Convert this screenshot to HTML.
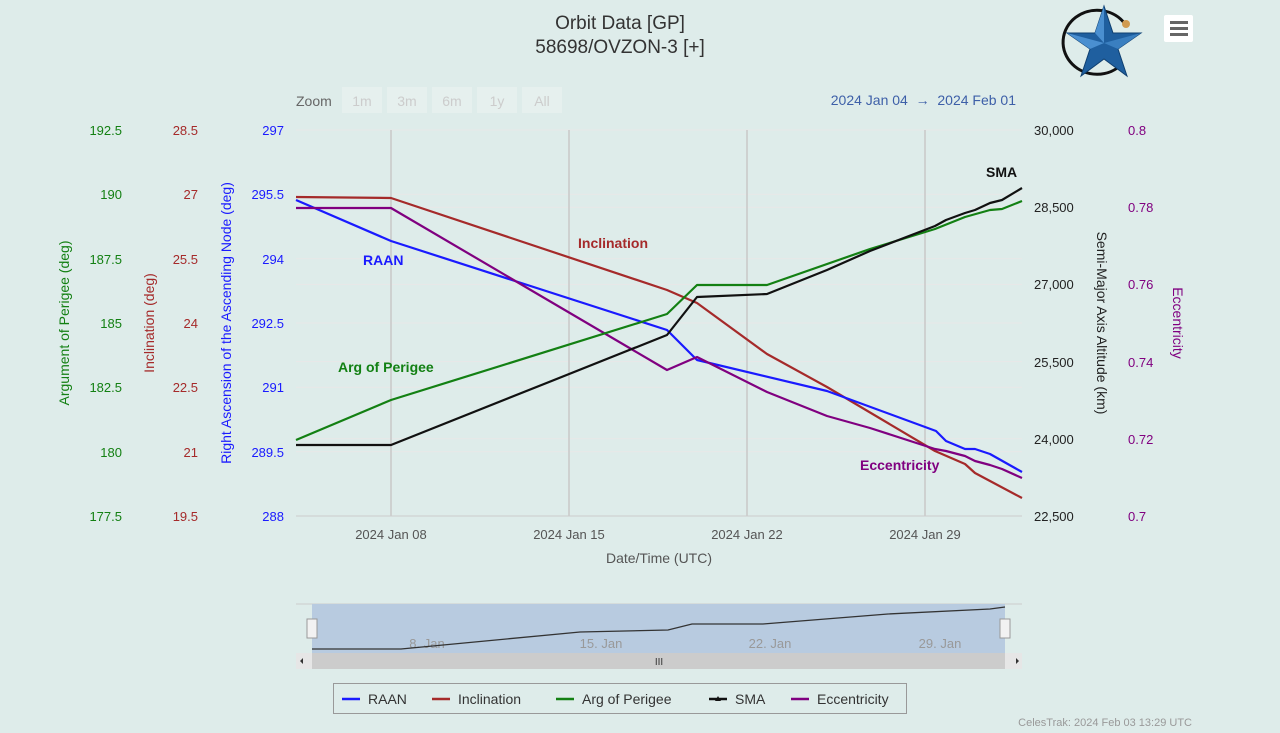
<!DOCTYPE html>
<html><head><meta charset="utf-8"><style>
html,body{margin:0;padding:0;background:#deecea;}
svg{display:block;font-family:"Liberation Sans",sans-serif;}
</style></head><body>
<svg width="1280" height="733" viewBox="0 0 1280 733">
<rect width="1280" height="733" fill="#deecea"/>
<text x="620" y="29" text-anchor="middle" font-size="19" fill="#333">Orbit Data [GP]</text>
<text x="620" y="53" text-anchor="middle" font-size="19" fill="#333">58698/OVZON-3 [+]</text>
<!-- logo -->
<g>
<path d="M1125 24 A34 32 0 1 0 1122 64" fill="none" stroke="#111" stroke-width="3"/>
<circle cx="1126" cy="24" r="4" fill="#d09a50"/>
<polygon points="1104,6 1113,33 1141,33 1118,49 1127,76 1104,59 1081,76 1090,49 1067,33 1095,33" fill="#1f5f9f" stroke="#0f3f70" stroke-width="1"/>
<polygon points="1104,6 1104,43 1095,33" fill="#4a8fd0"/>
<polygon points="1141,33 1104,43 1118,49" fill="#3a7fc0"/>
<polygon points="1067,33 1104,43 1090,49" fill="#4a8fd0"/>
</g>
<rect x="1164" y="15" width="29" height="27" rx="2" fill="#fff"/>
<rect x="1170" y="21" width="18" height="3" fill="#666"/>
<rect x="1170" y="27" width="18" height="3" fill="#666"/>
<rect x="1170" y="33" width="18" height="3" fill="#666"/>
<!-- zoom buttons -->
<text x="296" y="106" font-size="14" fill="#666">Zoom</text>
<g font-size="14" fill="#ccc" text-anchor="middle">
<rect x="342" y="87" width="40" height="26" fill="#e6f0ee"/><text x="362" y="106">1m</text>
<rect x="387" y="87" width="40" height="26" fill="#e6f0ee"/><text x="407" y="106">3m</text>
<rect x="432" y="87" width="40" height="26" fill="#e6f0ee"/><text x="452" y="106">6m</text>
<rect x="477" y="87" width="40" height="26" fill="#e6f0ee"/><text x="497" y="106">1y</text>
<rect x="522" y="87" width="40" height="26" fill="#e6f0ee"/><text x="542" y="106">All</text>
</g>
<text x="1016" y="105" text-anchor="end" font-size="14" fill="#3d5fa8">2024 Jan 04 &#160;→ &#160;2024 Feb 01</text>
<!-- grid -->
<g stroke="#e8e8e8" stroke-width="1">
<line x1="296" x2="1022" y1="130" y2="130"/><line x1="296" x2="1022" y1="194.3" y2="194.3"/>
<line x1="296" x2="1022" y1="258.7" y2="258.7"/><line x1="296" x2="1022" y1="323" y2="323"/>
<line x1="296" x2="1022" y1="387.3" y2="387.3"/><line x1="296" x2="1022" y1="451.7" y2="451.7"/>
<line x1="296" x2="1022" y1="207.2" y2="207.2"/><line x1="296" x2="1022" y1="284.4" y2="284.4"/>
<line x1="296" x2="1022" y1="361.6" y2="361.6"/><line x1="296" x2="1022" y1="438.8" y2="438.8"/>
</g>
<g stroke="#c8c8c8" stroke-width="1.5">
<line x1="391" x2="391" y1="130" y2="516"/><line x1="569" x2="569" y1="130" y2="516"/>
<line x1="747" x2="747" y1="130" y2="516"/><line x1="925" x2="925" y1="130" y2="516"/>
</g>
<line x1="296" x2="1022" y1="516" y2="516" stroke="#ccc"/>
<g font-size="13" fill="#555" text-anchor="middle">
<text x="391" y="539">2024 Jan 08</text><text x="569" y="539">2024 Jan 15</text>
<text x="747" y="539">2024 Jan 22</text><text x="925" y="539">2024 Jan 29</text>
</g>
<text x="659" y="563" text-anchor="middle" font-size="14" fill="#555">Date/Time (UTC)</text>
<!-- left axes -->
<g font-size="13" text-anchor="end">
<g fill="#1a1aff"><text x="284" y="135">297</text><text x="284" y="199">295.5</text><text x="284" y="264">294</text><text x="284" y="328">292.5</text><text x="284" y="392">291</text><text x="284" y="457">289.5</text><text x="284" y="521">288</text></g>
<g fill="#a52a2a"><text x="198" y="135">28.5</text><text x="198" y="199">27</text><text x="198" y="264">25.5</text><text x="198" y="328">24</text><text x="198" y="392">22.5</text><text x="198" y="457">21</text><text x="198" y="521">19.5</text></g>
<g fill="#138013"><text x="122" y="135">192.5</text><text x="122" y="199">190</text><text x="122" y="264">187.5</text><text x="122" y="328">185</text><text x="122" y="392">182.5</text><text x="122" y="457">180</text><text x="122" y="521">177.5</text></g>
</g>
<g font-size="14" text-anchor="middle">
<text transform="translate(231,323) rotate(-90)" fill="#1a1aff">Right Ascension of the Ascending Node (deg)</text>
<text transform="translate(154,323) rotate(-90)" fill="#a52a2a">Inclination (deg)</text>
<text transform="translate(69,323) rotate(-90)" fill="#138013">Argument of Perigee (deg)</text>
<text transform="translate(1097,323) rotate(90)" fill="#222">Semi-Major Axis Altitude (km)</text>
<text transform="translate(1173,323) rotate(90)" fill="#800080">Eccentricity</text>
</g>
<g font-size="13">
<g fill="#222"><text x="1034" y="135">30,000</text><text x="1034" y="212">28,500</text><text x="1034" y="289">27,000</text><text x="1034" y="367">25,500</text><text x="1034" y="444">24,000</text><text x="1034" y="521">22,500</text></g>
<g fill="#800080"><text x="1128" y="135">0.8</text><text x="1128" y="212">0.78</text><text x="1128" y="289">0.76</text><text x="1128" y="367">0.74</text><text x="1128" y="444">0.72</text><text x="1128" y="521">0.7</text></g>
</g>
<!-- series -->
<g fill="none" stroke-width="2.2" stroke-linejoin="round">
<polyline stroke="#a52a2a" points="296,197 391,198 667,290 697,303 767,354 827,387 935,451 965,464 975,473 990,481 1022,498"/>
<polyline stroke="#1a1aff" points="296,200 391,241 667,330 697,360 827,391 936,431 946,441 965,449 975,449 990,454 1022,472"/>
<polyline stroke="#800080" points="296,208 391,208 667,370 697,357 767,392 827,416 870,428 935,449 946,451 965,456 975,461 990,465 1002,469 1022,478"/>
<polyline stroke="#138013" points="296,440 391,400 667,314 697,285 767,285 870,249 935,229 965,217 990,210 1002,209 1022,201"/>
<polyline stroke="#111" points="296,445 391,445 667,335 697,297 767,294 827,270 870,251 935,226 946,220 965,213 975,210 990,203 1002,200 1022,188"/>
</g>
<g font-size="14" font-weight="bold">
<text x="363" y="265" fill="#1a1aff">RAAN</text>
<text x="578" y="248" fill="#a52a2a">Inclination</text>
<text x="338" y="372" fill="#138013">Arg of Perigee</text>
<text x="986" y="177" fill="#111">SMA</text>
<text x="860" y="470" fill="#800080">Eccentricity</text>
</g>
<!-- navigator -->
<line x1="296" x2="1022" y1="604" y2="604" stroke="#ccc"/>
<rect x="312" y="604" width="693" height="49" fill="#b8cbe0"/>
<g font-size="13" fill="#999" text-anchor="middle"><text x="427" y="648">8. Jan</text><text x="601" y="648">15. Jan</text><text x="770" y="648">22. Jan</text><text x="940" y="648">29. Jan</text></g>
<polyline fill="none" stroke="#333" stroke-width="1.3" points="312,649 401,649 580,632 668,630 692,624 763,624 888,614 990,609 1005,607"/>
<rect x="307" y="619" width="10" height="19" fill="#f2f2f2" stroke="#999"/>
<rect x="1000" y="619" width="10" height="19" fill="#f2f2f2" stroke="#999"/>
<rect x="296" y="653" width="726" height="16" fill="#e6e6e6"/>
<rect x="312" y="653" width="693" height="16" fill="#ccc"/>
<text x="659" y="665" font-size="10" fill="#333" text-anchor="middle">III</text>
<path d="M300 661 l3 -3 v6z M1016 658 l3 3 -3 3z" fill="#333"/>
<!-- legend -->
<rect x="333.5" y="683.5" width="573" height="30" fill="#deecea" stroke="#999"/>
<g font-size="14" fill="#333">
<line x1="342" x2="360" y1="699" y2="699" stroke="#1a1aff" stroke-width="2.5"/><text x="368" y="704">RAAN</text>
<line x1="432" x2="450" y1="699" y2="699" stroke="#a52a2a" stroke-width="2.5"/><text x="458" y="704">Inclination</text>
<line x1="556" x2="574" y1="699" y2="699" stroke="#138013" stroke-width="2.5"/><text x="582" y="704">Arg of Perigee</text>
<line x1="709" x2="727" y1="699" y2="699" stroke="#111" stroke-width="2.5"/><path d="M718 696 l3 5 h-6z" fill="#111"/><text x="735" y="704">SMA</text>
<line x1="791" x2="809" y1="699" y2="699" stroke="#800080" stroke-width="2.5"/><text x="817" y="704">Eccentricity</text>
</g>
<text x="1192" y="726" text-anchor="end" font-size="11" fill="#999">CelesTrak: 2024 Feb 03 13:29 UTC</text>
</svg>
</body></html>
